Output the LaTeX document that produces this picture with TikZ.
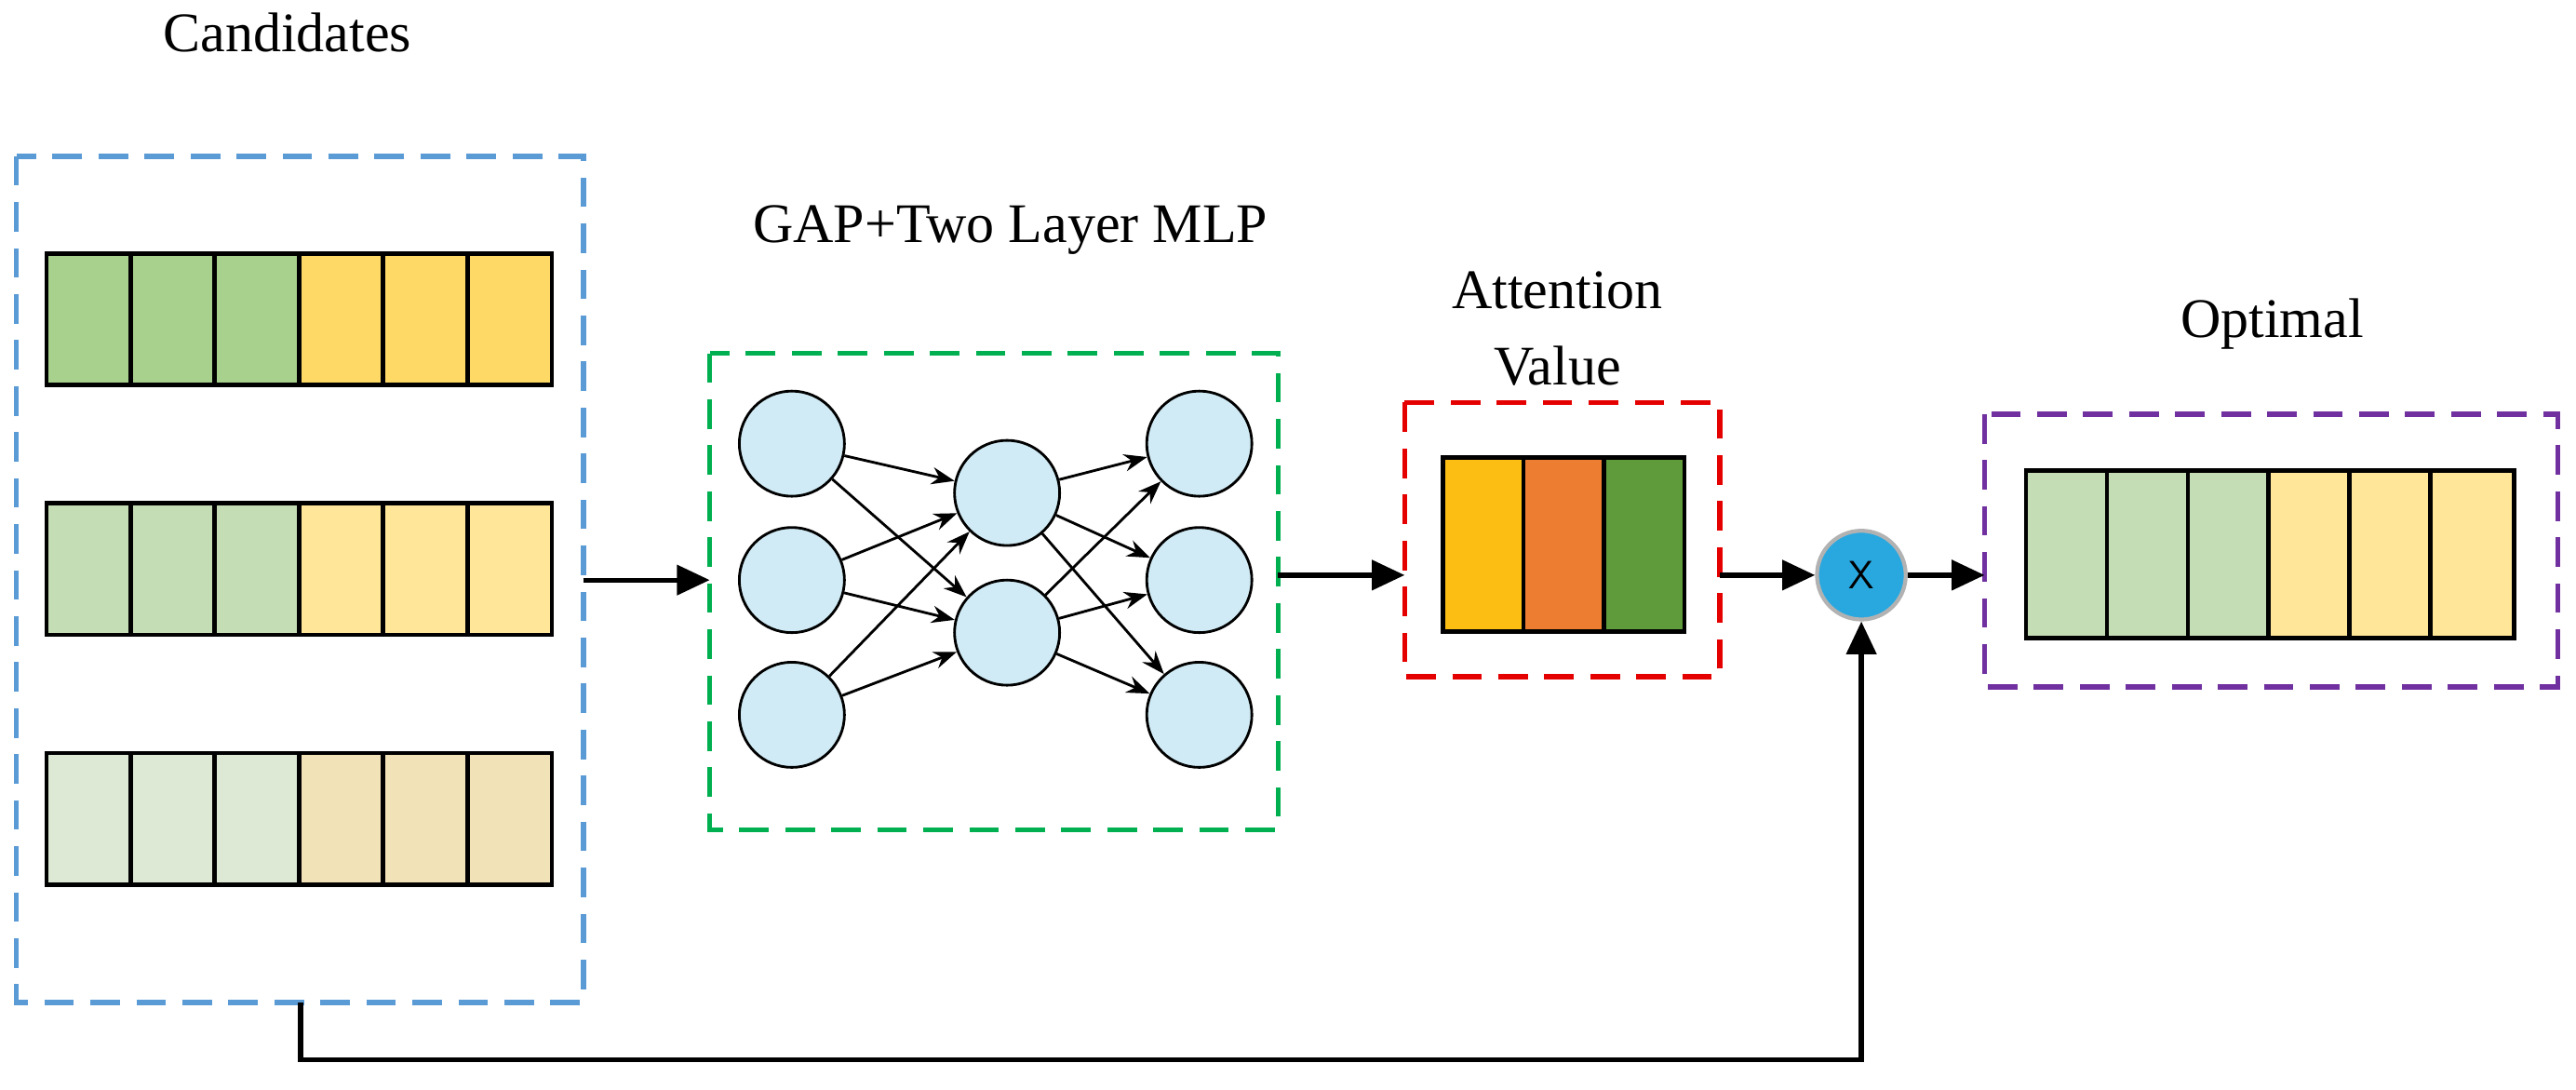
\documentclass[tikz,border=0pt]{standalone}
\usepackage{fontspec}
\setmainfont{Liberation Serif}
\usetikzlibrary{arrows.meta}
\definecolor{gA}{HTML}{A9D18E}\definecolor{yA}{HTML}{FFD966}
\definecolor{gB}{HTML}{C5DDB5}\definecolor{yB}{HTML}{FFE699}
\definecolor{gC}{HTML}{DDE8D5}\definecolor{yC}{HTML}{F2E2B8}
\definecolor{nodeblue}{HTML}{D0EBF5}
\tikzset{
 dbox/.style={dashed,line width=1.6pt,dash pattern=on 9pt off 5pt},
 cell/.style={draw=black,line width=1.3pt,minimum width=25.5pt,minimum height=40pt,inner sep=0pt,anchor=north west},
 neu/.style={circle,draw=black,line width=0.8pt,fill=nodeblue,minimum size=32pt,inner sep=0pt},
 arr/.style={-{Triangle[length=10pt,width=9pt]},line width=1.5pt},
 lab/.style={font=\fontsize{17}{20}\selectfont,align=center}
}
\begin{document}
\begin{tikzpicture}[x=0.5pt,y=-0.5pt]
\useasboundingbox (0,0) rectangle (1568,663);
\node[lab] (tc) at (175,20) {Candidates};
\draw[dbox,draw={rgb,255:red,91;green,155;blue,213}] (10,95) rectangle (355,610);
\coordinate (cbot) at (183,610);
\foreach \y/\g/\yy [count=\r] in {153/gA/yA,305/gB/yB,457/gC/yC}{
  \foreach \i in {0,1,2}{\node[cell,fill=\g,minimum height=40pt] (r\r c\i) at ({27+\i*51.3},\y) {};}
  \foreach \i in {3,4,5}{\node[cell,fill=\yy,minimum height=40pt] (r\r c\i) at ({27+\i*51.3},\y) {};}
}
\coordinate (cr) at (355,353);
\node[lab] (tg) at (615,140) {GAP+Two Layer MLP};
\draw[dbox,draw={rgb,255:red,0;green,176;blue,80}] (432,215) rectangle (778,505);
\coordinate (gl) at (432,353); \coordinate (gr) at (778,350);
\node[neu] (a1) at (482,270) {};\node[neu] (a2) at (482,353) {};\node[neu] (a3) at (482,435) {};
\node[neu] (b1) at (613,300) {};\node[neu] (b2) at (613,385) {};
\node[neu] (c1) at (730,270) {};\node[neu] (c2) at (730,353) {};\node[neu] (c3) at (730,435) {};
\foreach \s in {a1,a2,a3}\foreach \t in {b1,b2}\draw[-{Stealth[length=7pt]},line width=0.8pt] (\s)--(\t);
\foreach \s in {b1,b2}\foreach \t in {c1,c2,c3}\draw[-{Stealth[length=7pt]},line width=0.8pt] (\s)--(\t);
\draw[arr] (cr)--(gl);
\node[lab,font=\fontsize{17}{23}\selectfont] (ta) at (948,200) {Attention\\Value};
\draw[dbox,draw=red!90!black] (855,245) rectangle (1047,412);
\coordinate (al) at (855,350); \coordinate (ar) at (1047,350);
\node[cell,fill={rgb,255:red,253;green,190;blue,20},minimum width=24.5pt,minimum height=53pt] (v1) at (877,277) {};
\node[cell,fill={rgb,255:red,237;green,125;blue,49},minimum width=24.5pt,minimum height=53pt] (v2) at (926,277) {};
\node[cell,fill={rgb,255:red,95;green,155;blue,58},minimum width=24.5pt,minimum height=53pt] (v3) at (975,277) {};
\draw[arr] (gr)--(al);
\node[circle,fill={rgb,255:red,41;green,168;blue,224},draw=gray!60,line width=1.2pt,minimum size=27pt,inner sep=0pt,font=\sffamily\fontsize{12}{12}\selectfont] (x) at (1133,350) {X};
\draw[arr] (ar)--(x);
\node[lab] (to) at (1383,197) {Optimal};
\draw[dbox,draw={rgb,255:red,112;green,48;blue,160}] (1208,252) rectangle (1557,418);
\coordinate (ol) at (1208,350);
\foreach \i in {0,1,2}{\node[cell,fill=gB,minimum height=51pt] (o\i) at ({1232+\i*49.2},285) {};}
\foreach \i in {3,4,5}{\node[cell,fill=yB,minimum height=51pt] (o\i) at ({1232+\i*49.2},285) {};}
\draw[arr] (x)--(ol);
\draw[arr] (cbot)--(183,645)-|(x.south);
\end{tikzpicture}
\end{document}
